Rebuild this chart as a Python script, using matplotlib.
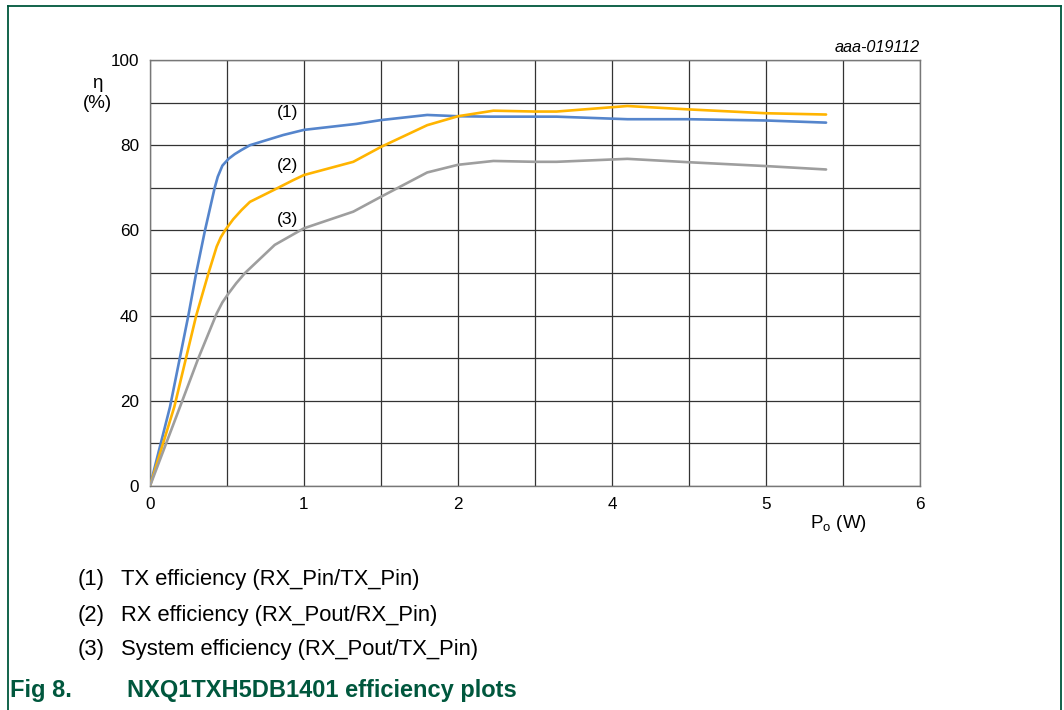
import matplotlib.pyplot as plt
from matplotlib.lines import Line2D

plt.rcParams['font.family'] = ['Liberation Sans', 'DejaVu Sans']

# valores (x en unidades de la rejilla, y en %)
tx_x = [0, 0.13, 0.249, 0.30, 0.357, 0.42, 0.44, 0.47, 0.51, 0.55, 0.595, 0.649,
        0.866, 1.0, 1.34, 1.5, 1.80, 2.0, 2.21, 2.5, 2.64, 3.1, 3.5, 4.0, 4.39]
tx_y = [0, 18.6, 40, 50, 60, 70, 72.6, 75.2, 76.8, 77.9, 78.9, 80,
        82.4, 83.6, 85, 85.9, 87.1, 86.8, 86.7, 86.7, 86.7, 86.1, 86.1, 85.8, 85.3]

rx_x = [0, 0.158, 0.30, 0.38, 0.433, 0.46, 0.487, 0.54, 0.595, 0.649, 0.81, 0.93,
        1.0, 1.32, 1.5, 1.80, 2.0, 2.23, 2.5, 2.64, 3.1, 3.5, 4.0, 4.39]
rx_y = [0, 18.6, 40, 50, 56.2, 58.4, 60, 62.6, 64.8, 66.7, 69.6, 71.8,
        73, 76.1, 79.6, 84.7, 86.8, 88.1, 87.9, 87.9, 89.2, 88.4, 87.5, 87.2]

sys_x = [0, 0.195, 0.314, 0.433, 0.47, 0.51, 0.56, 0.617, 0.81, 1.0, 1.32, 1.5,
         1.80, 2.0, 2.23, 2.5, 2.64, 3.1, 3.5, 4.0, 4.39]
sys_y = [0, 18.6, 30, 40.5, 43.1, 45.2, 47.6, 50, 56.6, 60.5, 64.4, 67.9,
         73.6, 75.4, 76.3, 76.1, 76.1, 76.8, 76.0, 75.1, 74.3]

x_ticks = [0, 1, 2, 3, 4, 5]
x_tick_labels = ['0', '1', '2', '4', '5', '6']
y_ticks = [0, 20, 40, 60, 80, 100]

leyenda = ['TX efficiency (RX_Pin/TX_Pin)',
           'RX efficiency (RX_Pout/RX_Pin)',
           'System efficiency (RX_Pout/TX_Pin)']

verde = '#00573d'

fig = plt.figure(figsize=(10.64, 7.1), dpi=100)
ax = fig.add_axes([150 / 1064, 1 - 486 / 710, 770 / 1064, 426 / 710])

ax.plot(tx_x, tx_y, color='#5585cc', lw=1.9, solid_capstyle='round',
        solid_joinstyle='round', zorder=3)
ax.plot(rx_x, rx_y, color='#ffb400', lw=1.9, solid_capstyle='round',
        solid_joinstyle='round', zorder=3)
ax.plot(sys_x, sys_y, color='#9e9e9e', lw=1.9, solid_capstyle='round',
        solid_joinstyle='round', zorder=3)

ax.set_xlim(0, 5)
ax.set_ylim(0, 100)
ax.set_xticks(x_ticks)
ax.set_xticklabels(x_tick_labels)
ax.set_yticks(y_ticks)
ax.set_xticks([i * 0.5 for i in range(11)], minor=True)
ax.set_yticks(range(0, 101, 10), minor=True)
ax.grid(which='both', color='#333333', lw=0.9, zorder=1)
ax.tick_params(which='both', length=0, labelsize=12.3)
ax.tick_params(axis='x', pad=8)
ax.tick_params(axis='y', pad=8)
for s in ax.spines.values():
    s.set_color('#777777')
    s.set_linewidth(1.0)

ax.text(0.896, 86.0, '(1)', ha='center', va='bottom', fontsize=12.5)
ax.text(0.896, 73.4, '(2)', ha='center', va='bottom', fontsize=12.5)
ax.text(0.896, 60.8, '(3)', ha='center', va='bottom', fontsize=12.5,
        bbox=dict(facecolor='white', edgecolor='none', pad=0.3), zorder=4)

ax.text(1.0, 1.012, 'aaa-019112', transform=ax.transAxes, ha='right', va='bottom',
        fontsize=11.7, style='italic')

fig.text(97 / 1064, 1 - 83 / 710, 'η', ha='center', va='center', fontsize=13.5)
fig.text(97 / 1064, 1 - 104 / 710, '(%)', ha='center', va='center', fontsize=13.5)
fig.text(838 / 1064, 1 - 523 / 710, r'P$_\mathregular{o}$ (W)', ha='center',
         va='center', fontsize=13.5)

for i, txt in enumerate(leyenda):
    yy = 1 - (580 + 35 * i) / 710
    fig.text(78 / 1064, yy, f'({i + 1})', ha='left', va='center', fontsize=15.8)
    fig.text(121 / 1064, yy, txt, ha='left', va='center', fontsize=15.8)

fig.text(10 / 1064, 1 - 690 / 710, 'Fig 8.', ha='left', va='center', fontsize=17,
         weight='bold', color=verde)
fig.text(127 / 1064, 1 - 690 / 710, 'NXQ1TXH5DB1401 efficiency plots', ha='left',
         va='center', fontsize=17, weight='bold', color=verde)

# marco verde de la figura
fig.add_artist(Line2D([8 / 1064, 8 / 1064], [0, 1 - 6 / 710], transform=fig.transFigure,
                      color=verde, lw=1.3))
fig.add_artist(Line2D([8 / 1064, 1061 / 1064], [1 - 6 / 710, 1 - 6 / 710],
                      transform=fig.transFigure, color=verde, lw=1.3))
fig.add_artist(Line2D([1061 / 1064, 1061 / 1064], [0, 1 - 6 / 710],
                      transform=fig.transFigure, color=verde, lw=1.3))

fig.savefig('out.png', dpi=100)
